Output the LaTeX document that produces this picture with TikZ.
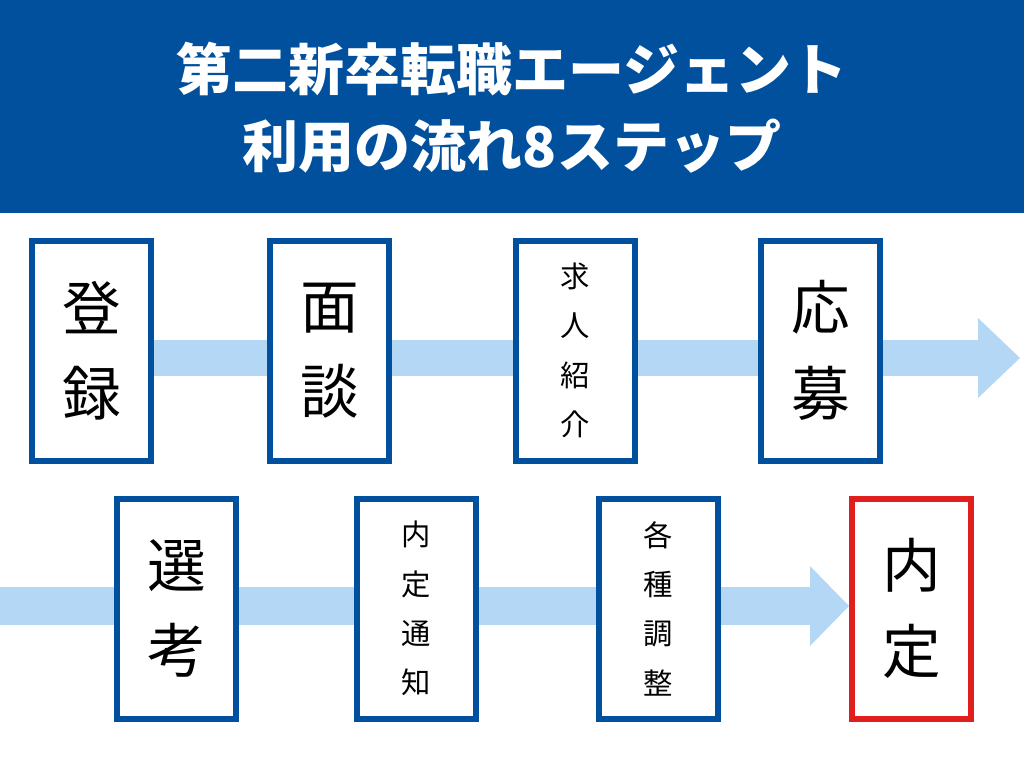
\documentclass[tikz,border=0pt]{standalone}
\usepackage{fontspec}
\setmainfont{Noto Sans CJK JP}
\usetikzlibrary{positioning}
\definecolor{hblue}{RGB}{0,80,158}
\definecolor{lblue}{RGB}{180,215,245}
\definecolor{dred}{RGB}{225,30,30}
\tikzset{
  stepbox/.style={draw=hblue, line width=4.5pt, fill=white, minimum width=89pt, minimum height=165pt, inner sep=0pt, align=center},
  bigtxt/.style={font=\fontsize{44}{64}\selectfont},
  smalltxt/.style={font=\fontsize{22}{37}\selectfont},
  band/.style={fill=lblue}
}
\begin{document}
\begin{tikzpicture}[x=0.75pt,y=-0.75pt]
\useasboundingbox (0,0) rectangle (1024,768);
% header
\fill[hblue] (0,0) rectangle (1024,213);
\node[text=white, font=\bfseries\fontsize{42}{58}\selectfont, align=center] (title) at (512,108) {第二新卒転職エージェント\\利用の流れ8ステップ};
% arrows
\fill[band] (150,340) rectangle (980,376);
\fill[band] (978,318) -- (1020,358) -- (978,398) -- cycle;
\fill[band] (0,587) rectangle (812,625);
\fill[band] (810,566) -- (849,606) -- (810,646) -- cycle;
% top row
\node[stepbox, bigtxt] (s1) at (91.5,350.5) {登\\録};
\node[stepbox, bigtxt] (s2) at (329.5,350.5) {面\\談};
\node[stepbox, smalltxt] (s3) at (575.5,350.5) {求\\人\\紹\\介};
\node[stepbox, bigtxt] (s4) at (820.5,350.5) {応\\募};
% bottom row
\node[stepbox, bigtxt] (s5) at (176.5,608.5) {選\\考};
\node[stepbox, smalltxt] (s6) at (416.5,608.5) {内\\定\\通\\知};
\node[stepbox, smalltxt] (s7) at (658.5,608.5) {各\\種\\調\\整};
\node[stepbox, bigtxt, draw=dred] (s8) at (911.5,608.5) {内\\定};
\end{tikzpicture}
\end{document}
